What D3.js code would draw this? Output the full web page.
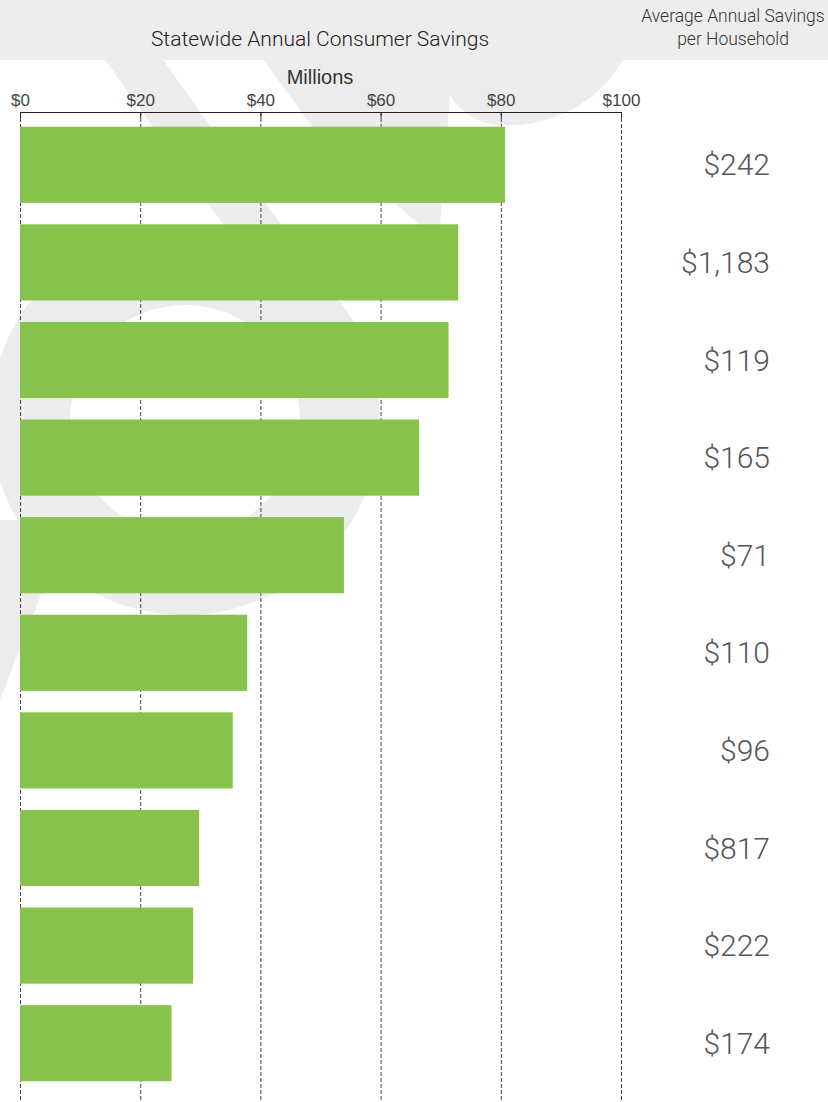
<!DOCTYPE html>
<html>
<head>
<meta charset="utf-8">
<script src="https://cdn.jsdelivr.net/npm/d3@7"></script>
<style>
  body { margin: 0; background: #fff; }
  svg { display: block; }
</style>
</head>
<body>
<svg width="828" height="1102"></svg>
<script>
// data (millions of dollars, top to bottom)
var ranks = ["1", "2", "3", "4", "5", "6", "7", "8", "9", "10"];
var savings = [80.7, 72.9, 71.3, 66.4, 53.9, 37.8, 35.4, 29.8, 28.8, 25.2];
var perHousehold = ["$242", "$1,183", "$119", "$165", "$71", "$110", "$96", "$817", "$222", "$174"];
var ticks = [0, 20, 40, 60, 80, 100];

var svg = d3.select("svg"),
    width = +svg.attr("width"),
    height = +svg.attr("height");

var x = d3.scaleLinear().domain([0, 100]).range([20, 621]);
var y = d3.scaleBand().domain(ranks).range([116, 1092]).paddingInner(0.22).paddingOuter(0.11);

// faint watermark behind the chart
var wm = svg.append("g").attr("fill", "#ececec");
wm.append("path")
    .attr("fill-rule", "evenodd")
    .attr("d", d3.arc()({innerRadius: 115, outerRadius: 195, startAngle: 0, endAngle: 2 * Math.PI}))
    .attr("transform", "translate(185,420)");
wm.append("path")
    .attr("d", "M62,0 L120,0 L400,390 L342,390 Z");
wm.append("path")
    .attr("d", "M220,0 L640,0 A130,130 0 0 1 505,125 A60,60 0 0 1 450,95 L440,225 L420,225 L322,140 Z");
wm.append("path")
    .attr("d", "M0,520 L70,520 L0,700 Z");

// header band
svg.append("rect")
    .attr("x", 0).attr("y", 0)
    .attr("width", width).attr("height", 60)
    .attr("fill", "#ededed");

svg.append("text")
    .attr("x", 320).attr("y", 46)
    .attr("text-anchor", "middle")
    .style("font", "300 21px Roboto")
    .style("fill", "#222")
    .text("Statewide Annual Consumer Savings");

var sub = svg.append("text")
    .attr("text-anchor", "middle")
    .style("font", "300 17.5px Roboto")
    .style("fill", "#333");
sub.append("tspan").attr("x", 733).attr("y", 22).text("Average Annual Savings");
sub.append("tspan").attr("x", 733).attr("y", 45).text("per Household");

svg.append("text")
    .attr("x", 320).attr("y", 84)
    .attr("text-anchor", "middle")
    .style("font", "20px 'Liberation Sans', Arial, sans-serif")
    .style("fill", "#333")
    .text("Millions");

// dashed gridlines
svg.append("g")
    .selectAll("line")
    .data(ticks)
    .enter().append("line")
    .attr("x1", function (d) { return x(d) + 0.5; })
    .attr("x2", function (d) { return x(d) + 0.5; })
    .attr("y1", 112)
    .attr("y2", height)
    .attr("stroke", "#444")
    .attr("stroke-dasharray", "4,2");

// axis on top
var axis = svg.append("g")
    .attr("transform", "translate(0,112)")
    .call(d3.axisTop(x).tickValues(ticks).tickSizeInner(-6).tickSizeOuter(0).tickPadding(6)
        .tickFormat(function (d) { return "$" + d; }));
axis.select(".domain").attr("stroke", "#222");
axis.selectAll(".tick line").attr("stroke", "#222");
axis.selectAll(".tick text")
    .style("font", "17px 'Liberation Sans', Arial, sans-serif")
    .style("fill", "#444");

// bars
svg.append("g")
    .selectAll("rect")
    .data(savings)
    .enter().append("rect")
    .attr("x", x(0))
    .attr("y", function (d, i) { return y(ranks[i]); })
    .attr("width", function (d) { return x(d) - x(0); })
    .attr("height", y.bandwidth())
    .attr("fill", "#86c24c");

// per household values on the right
svg.append("g")
    .selectAll("text")
    .data(perHousehold)
    .enter().append("text")
    .attr("x", 770)
    .attr("y", function (d, i) { return y(ranks[i]) + y.bandwidth() / 2; })
    .attr("dy", "0.35em")
    .attr("text-anchor", "end")
    .style("font", "300 30px Roboto")
    .style("fill", "#555")
    .text(function (d) { return d; });
</script>
</body>
</html>
